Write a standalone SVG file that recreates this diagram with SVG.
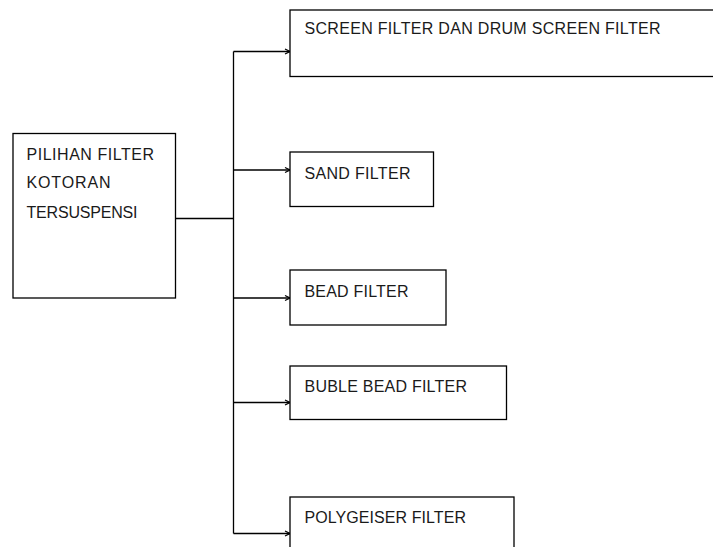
<svg xmlns="http://www.w3.org/2000/svg" width="713" height="547" viewBox="0 0 713 547">
<style>
.box{fill:#fff;stroke:#000;stroke-width:1.3}
.t{font-family:"Liberation Sans",Arial,sans-serif;font-size:16px;fill:#1a1a1a}
.c{fill:none;stroke:#000;stroke-width:1.3}
</style>
<defs>
<marker id="ar" markerWidth="8" markerHeight="8" refX="7" refY="4" orient="auto" markerUnits="userSpaceOnUse">
<path d="M2,1.5 L7,4 L2,6.5" fill="none" stroke="#000" stroke-width="1.2"/>
</marker>
</defs>
<g id="connectors">
<line class="c" x1="175.5" y1="218.5" x2="233.5" y2="218.5"/>
<line class="c" x1="233.5" y1="51.5" x2="233.5" y2="533.5"/>
<line class="c" x1="233.5" y1="51.5" x2="290" y2="51.5" marker-end="url(#ar)"/>
<line class="c" x1="233.5" y1="170" x2="290" y2="170" marker-end="url(#ar)"/>
<line class="c" x1="233.5" y1="298" x2="290" y2="298" marker-end="url(#ar)"/>
<line class="c" x1="233.5" y1="402.5" x2="290" y2="402.5" marker-end="url(#ar)"/>
<line class="c" x1="233.5" y1="533.5" x2="290" y2="533.5" marker-end="url(#ar)"/>
</g>
<g id="node-pilihan">
<rect class="box" x="13" y="133.5" width="162.5" height="164.5"/>
<text class="t" x="26.5" y="159.5" textLength="127.5" lengthAdjust="spacing">PILIHAN FILTER</text>
<text class="t" x="26.5" y="187.5" textLength="84" lengthAdjust="spacing">KOTORAN</text>
<text class="t" x="26.5" y="218" textLength="111" lengthAdjust="spacing">TERSUSPENSI</text>
</g>
<g id="node-screen">
<rect class="box" x="290" y="10" width="430" height="66.5"/>
<text class="t" x="304.5" y="33.5" textLength="356" lengthAdjust="spacing">SCREEN FILTER DAN DRUM SCREEN FILTER</text>
</g>
<g id="node-sand">
<rect class="box" x="290" y="152" width="143.5" height="54.5"/>
<text class="t" x="304.5" y="178.5" textLength="106" lengthAdjust="spacing">SAND FILTER</text>
</g>
<g id="node-bead">
<rect class="box" x="290" y="270" width="156" height="55"/>
<text class="t" x="304.5" y="296.5" textLength="104" lengthAdjust="spacing">BEAD FILTER</text>
</g>
<g id="node-buble">
<rect class="box" x="290" y="366" width="216.5" height="53.5"/>
<text class="t" x="304.5" y="391.5" textLength="162.5" lengthAdjust="spacing">BUBLE BEAD FILTER</text>
</g>
<g id="node-polygeiser">
<rect class="box" x="290" y="497" width="224" height="60"/>
<text class="t" x="304.5" y="522.5" textLength="161.5" lengthAdjust="spacing">POLYGEISER FILTER</text>
</g>
</svg>
